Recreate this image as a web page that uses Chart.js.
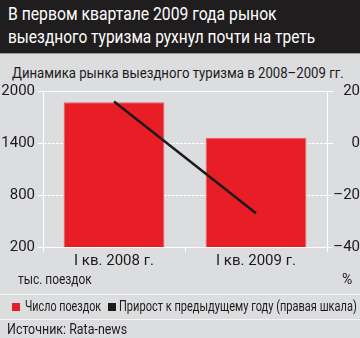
<!DOCTYPE html>
<html>
<head>
<meta charset="utf-8">
<script src="https://cdn.jsdelivr.net/npm/chart.js@4/dist/chart.umd.min.js"></script>
<style>
    body { margin: 0; }
    #wrap {
        position: relative; width: 360px; height: 338px; overflow: hidden;
        background: #dcdddf; color: #1c1a1b;
        font-family: Roboto, "Liberation Sans", sans-serif;
    }
    .t { position: absolute; white-space: nowrap; line-height: 1; transform-origin: 0 0; }
    #head { position: absolute; left: 0; top: 0; width: 360px; height: 53px; background: #1f1d1e; border-bottom: 1px solid #9a9a9a; }
    .sep { position: absolute; left: 0; width: 360px; height: 1px; background: #f6f6f6; }
    .sq { position: absolute; width: 8px; height: 8px; }
    #box { position: absolute; left: 0; top: 60px; width: 360px; height: 230px; }
</style>
</head>
<body>
<div id="wrap">
    <div id="head"></div>
    <div class="t" data-w="269" style="left:8px;top:5px;font-size:18px;color:#fff">В первом квартале 2009 года рынок</div>
    <div class="t" data-w="307" style="left:8px;top:28px;font-size:18px;color:#fff">выездного туризма рухнул почти на треть</div>
    <div class="t" data-w="332" style="left:12px;top:66px;font-size:15px">Динамика рынка выездного туризма в 2008–2009 гг.</div>

    <div id="box"><canvas id="chart"></canvas></div>

    <div class="t" data-w="74" style="left:18px;top:272px;font-size:14px">тыс. поездок</div>
    <div class="t" style="left:342px;top:272px;font-size:14px">%</div>

    <div class="sep" style="top:294px"></div>
    <div class="sq" style="left:12px;top:303px;background:#e91d25"></div>
    <div class="t" data-w="76" style="left:25px;top:299px;font-size:14px">Число поездок</div>
    <div class="sq" style="left:108px;top:303px;background:#1c1a1b"></div>
    <div class="t" data-w="238" style="left:119px;top:299px;font-size:14px">Прирост к предыдущему году (правая шкала)</div>
    <div class="sep" style="top:319px"></div>
    <div class="t" data-w="120" style="left:7px;top:322px;font-size:14px">Источник: Rata-news</div>
</div>

<script>
// ---- data ----
const categories = ['I кв. 2008 г.', 'I кв. 2009 г.'];
const trips      = [1870, 1460];   // тыс. поездок
const growth     = [16, -27];      // %, right scale
const leftTicks  = [200, 800, 1400, 2000];
const rightTicks = [-40, -20, 0, 20];

const FONT = "Roboto, 'Liberation Sans', sans-serif";
const INK = '#1c1a1b';
const minus = v => (v < 0 ? '–' + Math.abs(v) : String(v));

// squeeze html labels to the condensed widths of the original
document.querySelectorAll('.t[data-w]').forEach(el => {
    const k = +el.dataset.w / el.offsetWidth;
    el.style.transform = `scaleX(${k})`;
});

new Chart(document.getElementById('chart'), {
    data: {
        labels: categories,
        datasets: [
            {
                type: 'line',
                label: 'Прирост к предыдущему году (правая шкала)',
                data: growth,
                yAxisID: 'y1',
                borderColor: INK,
                borderWidth: 2.5,
                pointRadius: 0,
                tension: 0,
                order: 0,
            },
            {
                type: 'bar',
                label: 'Число поездок',
                data: trips,
                yAxisID: 'y',
                backgroundColor: '#e91d25',
                borderColor: '#ef5a5f',
                borderWidth: 1,
                barPercentage: 0.71,
                categoryPercentage: 1,
                order: 1,
            },
        ]
    },
    options: {
        responsive: true,
        maintainAspectRatio: false,
        animation: false,
        layout: { padding: { top: 31, left: 0, right: 0, bottom: 0 } },
        plugins: { legend: { display: false }, tooltip: { enabled: false } },
        scales: {
            x: {
                offset: true,
                grid: { drawOnChartArea: false, color: '#fff', tickLength: 5, offset: true },
                border: { color: '#fff', width: 1 },
                ticks: { color: INK, font: { family: FONT, size: 15 }, padding: 0 },
                afterFit: s => { s.height = 43; },
            },
            y: {
                position: 'left',
                min: 200, max: 2000,
                afterBuildTicks: s => { s.ticks = leftTicks.map(v => ({ value: v })); },
                grid: { color: '#fff', lineWidth: 1, tickLength: 5 },
                border: { color: '#fff', width: 1, dash: c => (c.tick && c.tick.value === 2000 ? [] : [3, 1]) },
                ticks: { color: INK, font: { family: FONT, size: 15 }, padding: 3, callback: v => String(v) },
                afterFit: s => { s.width = 43; },
            },
            y1: {
                position: 'right',
                min: -40, max: 20,
                afterBuildTicks: s => { s.ticks = rightTicks.map(v => ({ value: v })); },
                grid: { drawOnChartArea: false, color: '#fff', tickLength: 6 },
                border: { color: '#fff', width: 1 },
                ticks: { color: INK, font: { family: FONT, size: 15 }, padding: 0, crossAlign: 'far', callback: minus },
                afterFit: s => { s.width = 33; },
            }
        }
    }
});
</script>
</body>
</html>
